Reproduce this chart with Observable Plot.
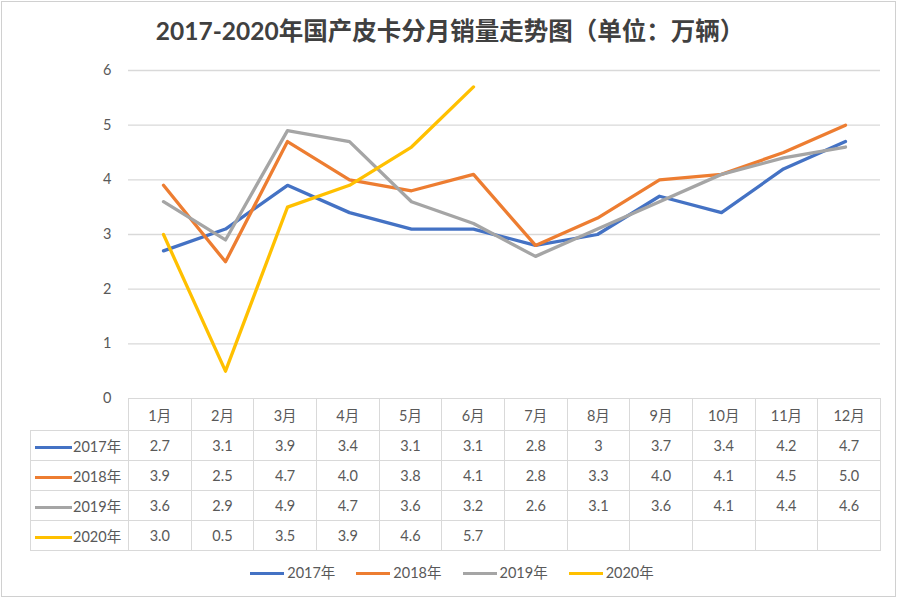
<!DOCTYPE html>
<html>
<head>
<meta charset="utf-8">
<script src="https://cdn.jsdelivr.net/npm/d3@7"></script>
<script src="https://cdn.jsdelivr.net/npm/@observablehq/plot@0.6"></script>
<style>
  html, body { margin: 0; padding: 0; background: #fff; }
  #wrap { position: relative; width: 900px; height: 601px; overflow: hidden; font-family: Lato, "Noto Sans CJK SC", sans-serif; color: #595959; }
  #frame { position: absolute; left: 1px; top: 1px; width: 895px; height: 596px; box-sizing: border-box; border: 1px solid #d0d0d0; pointer-events: none; }
  #title { position: absolute; left: 0; top: 11px; width: 900px; text-align: center; font-size: 24.5px; font-weight: bold; color: #404040; line-height: 40px; font-family: Lato, "Noto Sans CJK SC", sans-serif; }
  #chart { position: absolute; left: 0; top: 0; }
  #tbl { position: absolute; left: 30px; top: 398px; border-collapse: collapse; table-layout: fixed; font-size: 14.5px; color: #595959; }
  #tbl td { border: 1px solid #d9d9d9; text-align: center; padding: 0; }
  #tbl tr.head td { height: 31px; }
  #tbl tr.row td { height: 29px; }
  #tbl td.corner { border-top: none; border-left: none; }
  #tbl td.lab { text-align: left; }
  .key { display: inline-block; width: 37px; height: 0; border-top: 3px solid; vertical-align: middle; margin-left: 4px; margin-right: 1px; position: relative; top: -1px; }
  #legend { position: absolute; left: 0; top: 561px; width: 904px; display: flex; justify-content: center; gap: 21px; font-size: 14.5px; color: #595959; line-height: 24px; }
  #legend .key { width: 34px; margin-left: 0; margin-right: 3px; }
</style>
</head>
<body>
<div id="wrap">
  <div id="title"></div>
  <div id="chart"></div>
  <table id="tbl"></table>
  <div id="legend"></div>
  <div id="frame"></div>
</div>
<script>
const titleText = "2017-2020年国产皮卡分月销量走势图（单位：万辆）";
const months = ["1月","2月","3月","4月","5月","6月","7月","8月","9月","10月","11月","12月"];
const years = ["2017年","2018年","2019年","2020年"];
const v2017 = [2.7, 3.1, 3.9, 3.4, 3.1, 3.1, 2.8, 3, 3.7, 3.4, 4.2, 4.7];
const v2018 = [3.9, 2.5, 4.7, 4.0, 3.8, 4.1, 2.8, 3.3, 4.0, 4.1, 4.5, 5.0];
const v2019 = [3.6, 2.9, 4.9, 4.7, 3.6, 3.2, 2.6, 3.1, 3.6, 4.1, 4.4, 4.6];
const v2020 = [3.0, 0.5, 3.5, 3.9, 4.6, 5.7];
const yTicks = [0, 1, 2, 3, 4, 5, 6];
const colors = ["#4472C4", "#ED7D31", "#A5A5A5", "#FFC000"];
const decimals = [null, 1, 1, 1];

const series = [v2017, v2018, v2019, v2020];
const data = years.flatMap((yr, i) => series[i].map((v, j) => ({year: yr, month: months[j], value: v})));

document.getElementById("title").textContent = titleText;

const chart = Plot.plot({
  width: 900,
  height: 601,
  marginTop: 70,
  marginBottom: 203,
  marginLeft: 128,
  marginRight: 20,
  style: {fontFamily: 'Lato, "Noto Sans CJK SC", sans-serif', background: "transparent", overflow: "visible"},
  x: {type: "point", domain: months, padding: 0.5, axis: null},
  y: {domain: [0, 6], axis: null},
  color: {domain: years, range: colors},
  marks: [
    Plot.ruleY(yTicks.slice(1), {stroke: "#d9d9d9", strokeWidth: 1.4}),
    Plot.axisY(yTicks, {tickSize: 0, tickPadding: 17, fontSize: 14.5, fill: "#595959", label: null, tickFormat: d => String(d)}),
    Plot.line(data, {x: "month", y: "value", z: "year", stroke: "year", strokeWidth: 3.3, strokeLinejoin: "round", strokeLinecap: "round"})
  ]
});
document.getElementById("chart").appendChild(chart);

// Data table
const colW = 752 / months.length;
const tbl = document.getElementById("tbl");
const cg = document.createElement("colgroup");
const c0 = document.createElement("col"); c0.style.width = "98px"; cg.appendChild(c0);
months.forEach(() => { const c = document.createElement("col"); c.style.width = colW + "px"; cg.appendChild(c); });
tbl.appendChild(cg);
tbl.style.width = (98 + 752) + "px";
const head = document.createElement("tr"); head.className = "head";
const corner = document.createElement("td"); corner.className = "corner"; head.appendChild(corner);
months.forEach(m => { const td = document.createElement("td"); td.textContent = m; head.appendChild(td); });
tbl.appendChild(head);
years.forEach((yr, i) => {
  const tr = document.createElement("tr"); tr.className = "row";
  const lab = document.createElement("td"); lab.className = "lab";
  const k = document.createElement("span"); k.className = "key"; k.style.borderTopColor = colors[i];
  lab.appendChild(k); lab.appendChild(document.createTextNode(yr));
  tr.appendChild(lab);
  months.forEach((m, j) => {
    const td = document.createElement("td");
    const v = series[i][j];
    td.textContent = v == null ? "" : (decimals[i] == null ? String(v) : v.toFixed(decimals[i]));
    tr.appendChild(td);
  });
  tbl.appendChild(tr);
});

// Legend
const lg = document.getElementById("legend");
years.forEach((yr, i) => {
  const it = document.createElement("span");
  const k = document.createElement("span"); k.className = "key"; k.style.borderTopColor = colors[i];
  it.appendChild(k); it.appendChild(document.createTextNode(yr));
  lg.appendChild(it);
});
</script>
</body>
</html>
